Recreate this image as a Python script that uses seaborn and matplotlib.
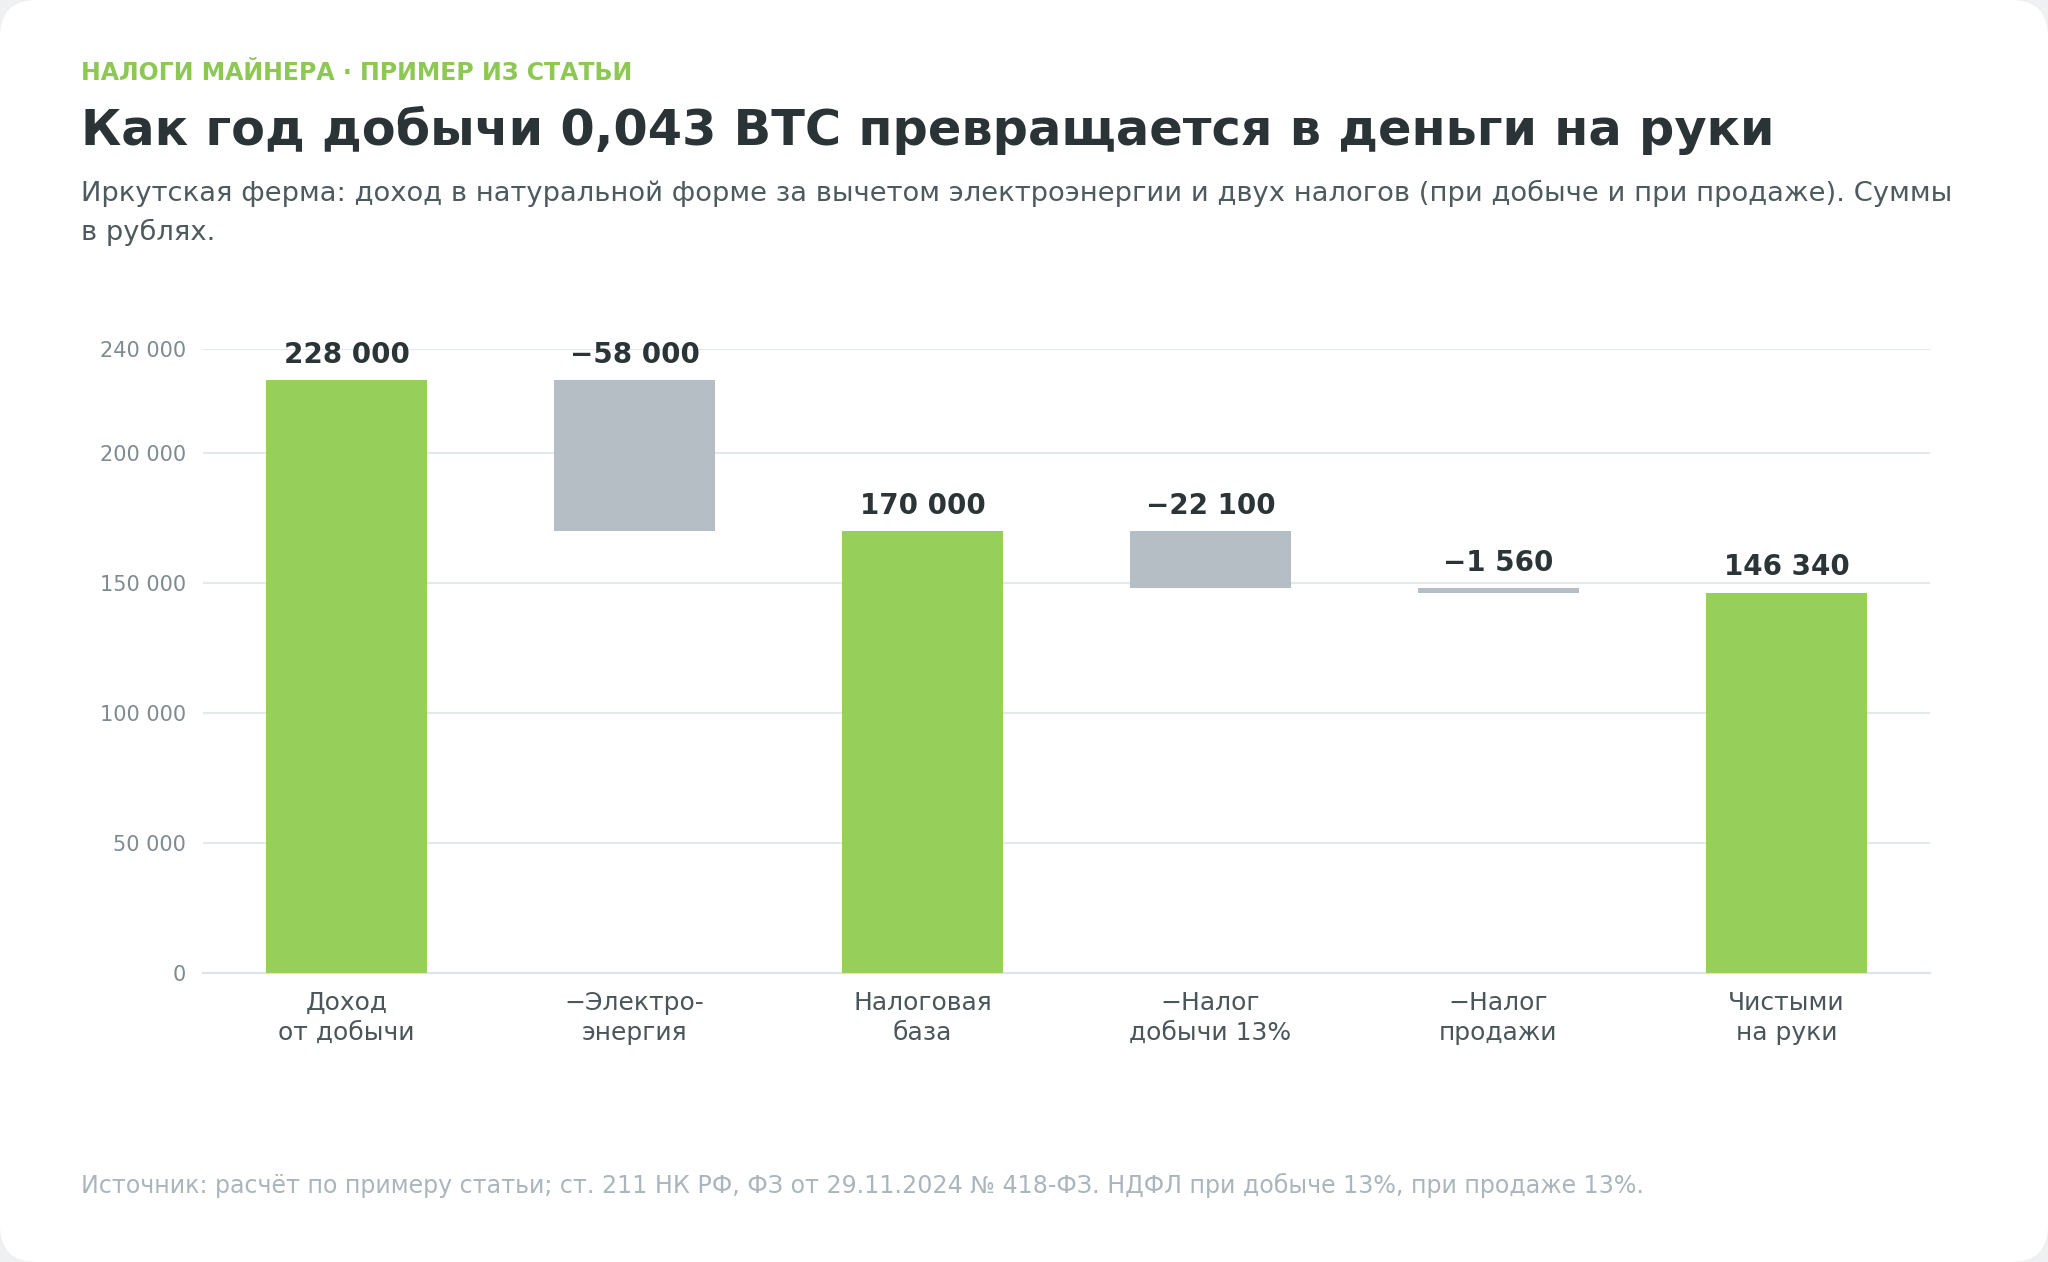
import matplotlib
matplotlib.use("Agg")
import matplotlib.pyplot as plt
from matplotlib.patches import FancyBboxPatch
import seaborn as sns
import pandas as pd

# ---- data ----
categories = ["Доход\nот добычи", "−Электро-\nэнергия", "Налоговая\nбаза",
              "−Налог\nдобычи 13%", "−Налог\nпродажи", "Чистыми\nна руки"]
steps = [228000, -58000, 170000, -22100, -1560, 146340]
kinds = ["total", "delta", "total", "delta", "delta", "total"]
value_labels = ["228 000", "−58 000", "170 000", "−22 100", "−1 560", "146 340"]
y_ticks = [0, 50000, 100000, 150000, 200000, 240000]
y_tick_labels = ["0", "50 000", "100 000", "150 000", "200 000", "240 000"]

# waterfall geometry derived from the step values
tops, bottoms = [], []
running = 0
for v, k in zip(steps, kinds):
    if k == "total":
        running = v
        tops.append(v)
        bottoms.append(0)
    else:
        tops.append(running)
        running = running + v
        bottoms.append(running)
heights = [t - b for t, b in zip(tops, bottoms)]

df = pd.DataFrame({"cat": categories, "top": tops, "bottom": bottoms,
                   "height": heights, "kind": kinds})

GREEN = "#97cf5b"
GREY = "#b4bec4"
palette = {c: (GREEN if k == "total" else GREY) for c, k in zip(categories, kinds)}

sns.set_theme(style="white")
plt.rcParams["font.family"] = ["DejaVu Sans"]

fig = plt.figure(figsize=(20.48, 12.62), dpi=100)
fig.patch.set_facecolor("#eef0f2")
card = FancyBboxPatch((0.0, 0.0), 1.0, 1.0,
                      boxstyle="round,pad=0,rounding_size=0.018",
                      transform=fig.transFigure, facecolor="#ffffff",
                      edgecolor="none", zorder=-5, mutation_aspect=2048/1262)
fig.patches.append(card)

ax = fig.add_axes([0.0989, 0.2288, 0.8437, 0.4948])
ax.set_facecolor("none")
ax.set_zorder(2)

sns.barplot(data=df, x="cat", y="height", hue="cat", palette=palette,
            legend=False, width=0.56, saturation=1, linewidth=0, ax=ax,
            zorder=3, errorbar=None)

# lift floating bars to their bottoms
for patch, b, h in zip(ax.patches, bottoms, heights):
    patch.set_y(b)
    patch.set_height(h)

ax.set_ylim(0, 240000)
ax.set_xlim(-0.5, 5.5)
ax.set_yticks(y_ticks)
ax.set_yticklabels(y_tick_labels)
ax.set_xlabel("")
ax.set_ylabel("")
ax.grid(axis="y", color="#e3e8eb", linewidth=1.5, zorder=0)
ax.set_axisbelow(True)
for s in ["top", "right", "left"]:
    ax.spines[s].set_visible(False)
ax.spines["bottom"].set_color("#dde3e6")
ax.spines["bottom"].set_linewidth(1.5)
ax.tick_params(axis="y", length=0, pad=12, labelsize=15, labelcolor="#7f8b90")
ax.tick_params(axis="x", length=0, pad=13, labelsize=18, labelcolor="#4a5659")
for lbl in ax.get_xticklabels():
    lbl.set_linespacing(1.3)

for i, (t, txt) in enumerate(zip(tops, value_labels)):
    ax.annotate(txt, (i, t), xytext=(0, 8), textcoords="offset points",
                ha="center", va="bottom", fontsize=20, fontweight="bold",
                color="#2b3437")

# ---- header / footer ----
fig.text(0.0395, 0.942, "НАЛОГИ МАЙНЕРА · ПРИМЕР ИЗ СТАТЬИ", fontsize=17,
         fontweight="bold", color="#8dc854", va="center", ha="left")
fig.text(0.0395, 0.8965, "Как год добычи 0,043 BTC превращается в деньги на руки",
         fontsize=35.6, fontweight="bold", color="#2a3335", va="center", ha="left")
fig.text(0.0395, 0.8468,
         "Иркутская ферма: доход в натуральной форме за вычетом электроэнергии и двух налогов (при добыче и при продаже). Суммы",
         fontsize=19.7, color="#4d5a5e", va="center", ha="left")
fig.text(0.0395, 0.8157, "в рублях.", fontsize=19.7, color="#4d5a5e",
         va="center", ha="left")
fig.text(0.0395, 0.061,
         "Источник: расчёт по примеру статьи; ст. 211 НК РФ, ФЗ от 29.11.2024 № 418-ФЗ. НДФЛ при добыче 13%, при продаже 13%.",
         fontsize=17.1, color="#aab6bc", va="center", ha="left")

fig.savefig("out.png", dpi=100, facecolor=fig.get_facecolor())
